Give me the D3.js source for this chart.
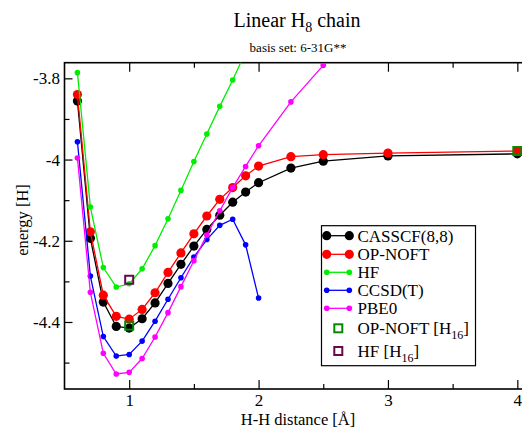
<!DOCTYPE html>
<html><head><meta charset="utf-8">
<script src="https://cdn.jsdelivr.net/npm/d3@7"></script>
<style>body{margin:0;background:#fff}svg{display:block}text{font-family:"Liberation Serif","Times New Roman",serif;fill:#000}</style>
</head><body><svg id="c" width="522" height="430"></svg>
<script>
const xsA = [0.6,0.7,0.8,0.9,1.0,1.1,1.2,1.3,1.4,1.5,1.6,1.7,1.8,1.9,2.0,2.25,2.5,3.0,4.0];
const casscf = [-3.856,-4.194,-4.351,-4.411,-4.415,-4.392,-4.353,-4.305,-4.258,-4.213,-4.172,-4.137,-4.105,-4.080,-4.057,-4.021,-4.004,-3.991,-3.986];
const opnoft = [-3.840,-4.178,-4.334,-4.386,-4.393,-4.369,-4.328,-4.278,-4.230,-4.183,-4.139,-4.098,-4.069,-4.040,-4.016,-3.993,-3.988,-3.984,-3.979];
const xsHF = [0.6,0.7,0.8,0.9,1.0,1.1,1.2,1.3,1.4,1.5,1.6,1.7,1.8,1.9];
const hf = [-3.786,-4.117,-4.266,-4.314,-4.306,-4.269,-4.212,-4.146,-4.076,-4.005,-3.937,-3.869,-3.804,-3.735];
const xsCC = [0.6,0.7,0.8,0.9,1.0,1.1,1.2,1.3,1.4,1.5,1.6,1.7,1.8,1.9,2.0];
const ccsdt = [-3.956,-4.287,-4.436,-4.484,-4.480,-4.447,-4.398,-4.344,-4.291,-4.240,-4.197,-4.162,-4.147,-4.210,-4.341];
const xsPBE = [0.6,0.7,0.8,0.9,1.0,1.1,1.2,1.3,1.4,1.5,1.6,1.7,1.8,1.9,2.0,2.25,2.5];
const pbe0 = [-3.996,-4.327,-4.477,-4.528,-4.524,-4.490,-4.437,-4.377,-4.313,-4.249,-4.186,-4.126,-4.069,-4.017,-3.966,-3.858,-3.768];
const xsOP16 = [1.0,4.0];
const opnoft16 = [-4.409,-3.979];
const xsHF16 = [1.0];
const hf16 = [-4.296];
const xMajor = [1,2,3,4];
const xMinor = [1.5,2.5,3.5];
const yMajor = [-3.8,-4.0,-4.2,-4.4];
const yTickLabels = ["-3.8","-4","-4.2","-4.4"];
const yMinor = [-3.9,-4.1,-4.3,-4.5];
const legendLabels = ["CASSCF(8,8)","OP-NOFT","HF","CCSD(T)","PBE0"];

const svg = d3.select("#c");
const L=64.5, T=62.7, B=389, R=523.8;
const x = d3.scaleLinear().domain([0.5,4.05]).range([L,R]);
const y = d3.scaleLinear().domain([-4.565,-3.7615]).range([B,T]);

svg.append("defs").append("clipPath").attr("id","clip")
  .append("rect").attr("x",L).attr("y",T).attr("width",R-L).attr("height",B-T);

// title
const t = svg.append("text").attr("x",297).attr("y",27).attr("text-anchor","middle").style("font-size","20px");
t.append("tspan").text("Linear H");
t.append("tspan").attr("dy",5).style("font-size","14px").text("8");
t.append("tspan").attr("dy",-5).text(" chain");
svg.append("text").attr("x",298).attr("y",52).attr("text-anchor","middle").style("font-size","13px").text("basis set: 6-31G**");

// axes
const fmtY = d => yTickLabels[yMajor.indexOf(d)];
svg.append("g").attr("transform",`translate(0,${B})`)
  .call(d3.axisBottom(x).tickValues(xMajor).tickSize(-9).tickPadding(5).tickFormat(d3.format("d")));
svg.append("g").attr("transform",`translate(0,${B})`)
  .call(d3.axisBottom(x).tickValues(xMinor).tickSize(-5).tickFormat(""));
svg.append("g").attr("transform",`translate(0,${T})`)
  .call(d3.axisTop(x).tickValues(xMajor).tickSize(-9).tickFormat(""));
svg.append("g").attr("transform",`translate(0,${T})`)
  .call(d3.axisTop(x).tickValues(xMinor).tickSize(-5).tickFormat(""));
svg.append("g").attr("transform",`translate(${L},0)`)
  .call(d3.axisLeft(y).tickValues(yMajor).tickSize(-8).tickPadding(4.5).tickFormat(fmtY));
svg.append("g").attr("transform",`translate(${L},0)`)
  .call(d3.axisLeft(y).tickValues(yMinor).tickSize(-5).tickFormat(""));
svg.selectAll(".domain").remove();
svg.selectAll(".tick line").attr("stroke","#000").attr("stroke-width",1.2);
svg.selectAll(".tick text").style("font-size","17px").style("font-family","'Liberation Serif',serif");

svg.append("rect").attr("x",L).attr("y",T).attr("width",R-L).attr("height",B-T)
  .attr("fill","none").attr("stroke","#000").attr("stroke-width",1.6);

svg.append("text").attr("x",298).attr("y",425).attr("text-anchor","middle").style("font-size","16.5px").text("H-H distance [Å]");
svg.append("text").attr("transform","translate(28,220) rotate(-90)").attr("text-anchor","middle").style("font-size","16.5px").text("energy [H]");

// series
const series = [
  {xs:xsA, ys:casscf, color:"#000000", r:4.6},
  {xs:xsA, ys:opnoft, color:"#ff0000", r:4.6},
  {xs:xsHF, ys:hf, color:"#00ee00", r:2.8},
  {xs:xsCC, ys:ccsdt, color:"#0000ff", r:2.8},
  {xs:xsPBE, ys:pbe0, color:"#ff00ff", r:2.8}
];
const plot = svg.append("g").attr("clip-path","url(#clip)");
const line = d3.line().x(d=>x(d[0])).y(d=>y(d[1]));
series.forEach(s=>{
  const pts = s.xs.map((v,i)=>[v,s.ys[i]]);
  const g = plot.append("g");
  g.append("path").attr("d",line(pts)).attr("fill","none").attr("stroke",s.color).attr("stroke-width",1.3);
  g.selectAll("circle").data(pts).join("circle").attr("cx",d=>x(d[0])).attr("cy",d=>y(d[1])).attr("r",s.r).attr("fill",s.color);
});
const sq = 8;
plot.selectAll("rect.op16").data(xsOP16.map((v,i)=>[v,opnoft16[i]])).join("rect").attr("class","op16")
  .attr("x",d=>x(d[0])-sq/2).attr("y",d=>y(d[1])-sq/2).attr("width",sq).attr("height",sq)
  .attr("fill","none").attr("stroke","#008b00").attr("stroke-width",2);
plot.selectAll("rect.hf16").data(xsHF16.map((v,i)=>[v,hf16[i]])).join("rect").attr("class","hf16")
  .attr("x",d=>x(d[0])-sq/2).attr("y",d=>y(d[1])-sq/2).attr("width",sq).attr("height",sq)
  .attr("fill","none").attr("stroke","#67074f").attr("stroke-width",2);

// legend
const lg = svg.append("g");
lg.append("rect").attr("x",321.5).attr("y",225.7).attr("width",154).attr("height",140)
  .attr("fill","#fff").attr("stroke","#000").attr("stroke-width",1.2);
const rowsY = [235.7,254.3,272.3,290.3,308.3,328.3,351];
series.forEach((s,i)=>{
  const yy = rowsY[i];
  lg.append("line").attr("x1",326.7).attr("x2",349.3).attr("y1",yy).attr("y2",yy).attr("stroke",s.color).attr("stroke-width",1.3);
  [326.7,349.3].forEach(xx=>lg.append("circle").attr("cx",xx).attr("cy",yy).attr("r",s.r).attr("fill",s.color));
  lg.append("text").attr("x",357.5).attr("y",yy+6).style("font-size","17px").text(legendLabels[i]);
});
[["OP-NOFT [H","16","]","#008b00",rowsY[5]],["HF [H","16","]","#67074f",rowsY[6]]].forEach(([a,sub,c,col,yy])=>{
  lg.append("rect").attr("x",338.3-sq/2).attr("y",yy-sq/2).attr("width",sq).attr("height",sq)
    .attr("fill","none").attr("stroke",col).attr("stroke-width",2);
  const tx = lg.append("text").attr("x",357.5).attr("y",yy+6).style("font-size","17px");
  tx.append("tspan").text(a);
  tx.append("tspan").attr("dy",5).style("font-size","12px").text(sub);
  tx.append("tspan").attr("dy",-5).text(c);
});
</script></body></html>
